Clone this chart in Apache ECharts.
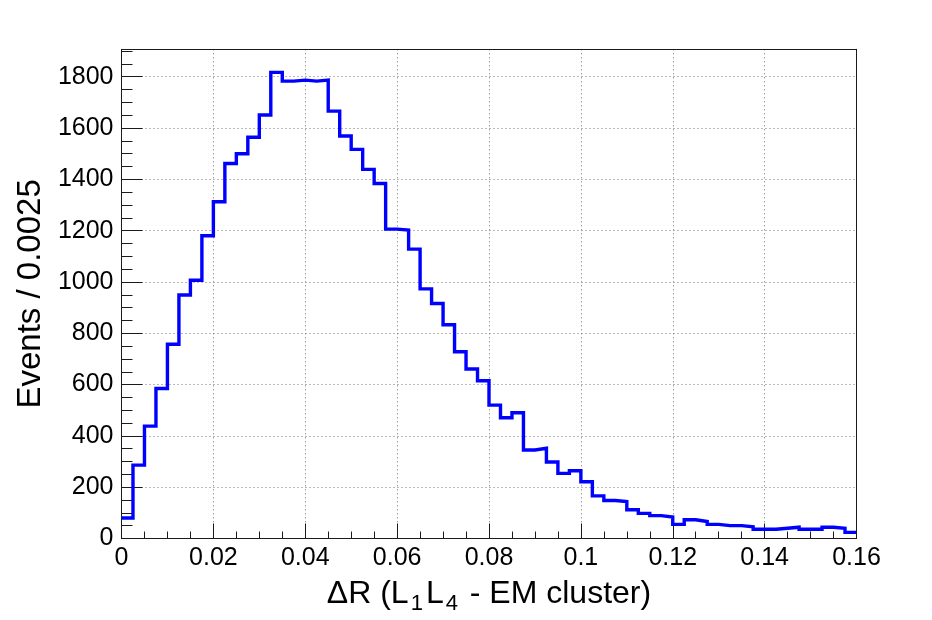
<!DOCTYPE html>
<html>
<head>
<meta charset="utf-8">
<script src="https://cdn.jsdelivr.net/npm/echarts@6/dist/echarts.min.js"></script>
<style>
html,body{margin:0;padding:0;background:#fff;}
#chart{width:932px;height:620px;}
</style>
</head>
<body>
<div id="chart"></div>
<script>
// Histogram: 64 bins of width 0.0025 from 0 to 0.16
const xMin = 0;
const xMax = 0.16;
const binWidth = 0.0025;
const counts = [
  80, 286, 438, 585, 757, 949, 1007, 1180, 1313, 1462,
  1500, 1564, 1651, 1817, 1783, 1787, 1783, 1787, 1666, 1569,
  1517, 1439, 1384, 1206, 1202, 1128, 973, 916, 833, 728,
  661, 615, 520, 471, 490, 345, 352, 298, 254, 264,
  221, 166, 148, 144, 112, 98, 89, 84, 55, 73,
  66, 55, 50, 50, 46, 36, 36, 40, 44, 36,
  36, 44, 40, 24
];
const yMax = 1907;
const yMajor = 200;
const yMinor = 50;
const xMajor = 0.02;
const yTitle = 'Events / 0.0025';

// step points at bin low edges, closing the last bin at its upper edge
const points = counts.map((v, i) => [xMin + i * binWidth, v]);
points.push([xMin + counts.length * binWidth, counts[counts.length - 1]]);

const FONT = '"Liberation Sans", Arial, Helvetica, sans-serif';
const AX = '#1a1a1a';
const GRID = '#707070';

const chart = echarts.init(document.getElementById('chart'), null, {renderer: 'canvas'});
chart.setOption({
  animation: false,
  backgroundColor: '#fff',
  grid: {left: 121.5, right: 75.5, top: 49.3, bottom: 81.5, containLabel: false},
  xAxis: [
    {
      type: 'value', min: xMin, max: xMax, interval: xMajor,
      position: 'bottom',
      name: '{n|ΔR (L}{s|1}{n|L}{s|4}{n| - EM cluster)}',
      nameLocation: 'middle', nameGap: 36,
      nameTextStyle: {
        rich: {
          n: {fontFamily: FONT, fontSize: 32, color: '#000', lineHeight: 40, verticalAlign: 'middle'},
          s: {fontFamily: FONT, fontSize: 22, color: '#000', lineHeight: 16, verticalAlign: 'bottom', padding: [0, 3, 0, 2]}
        }
      },
      axisLine: {show: true, onZero: false, lineStyle: {color: AX, width: 1}},
      axisTick: {show: true, inside: true, length: 15, lineStyle: {color: AX, width: 1}},
      minorTick: {show: true, splitNumber: 4, length: 7, lineStyle: {color: AX, width: 1}},
      axisLabel: {show: true, margin: 7, fontFamily: FONT, fontSize: 25, color: '#000',
        formatter: (v) => String(+v.toFixed(4))},
      splitLine: {show: true, lineStyle: {color: GRID, width: 1, type: [1, 3]}},
      minorSplitLine: {show: false}
    },
    {
      type: 'value', min: xMin, max: xMax, interval: xMajor,
      position: 'top', z: 5,
      axisLine: {show: true, onZero: false, lineStyle: {color: AX, width: 1}},
      axisTick: {show: false}, axisLabel: {show: false}, splitLine: {show: false}
    }
  ],
  yAxis: [
    {
      type: 'value', min: 0, max: yMax, interval: yMajor,
      position: 'left',
      name: yTitle, nameLocation: 'middle', nameGap: 61,
      nameTextStyle: {fontFamily: FONT, fontSize: 33, color: '#000'},
      axisLine: {show: true, onZero: false, lineStyle: {color: AX, width: 1}},
      axisTick: {show: true, inside: true, length: 21, lineStyle: {color: AX, width: 1}},
      axisLabel: {show: true, margin: 8, fontFamily: FONT, fontSize: 25, color: '#000', showMaxLabel: false,
        formatter: (v) => String(Math.round(v))},
      splitLine: {show: true, lineStyle: {color: GRID, width: 1, type: [1, 3]}}
    },
    {
      type: 'value', min: 0, max: yMax, interval: yMinor,
      position: 'left', offset: 0,
      axisLine: {show: false},
      axisTick: {show: true, inside: true, length: 11, lineStyle: {color: AX, width: 1}},
      axisLabel: {show: false}, splitLine: {show: false}
    },
    {
      type: 'value', min: 0, max: yMax, interval: yMajor,
      position: 'right', z: 5,
      axisLine: {show: true, onZero: false, lineStyle: {color: AX, width: 1}},
      axisTick: {show: false}, axisLabel: {show: false}, splitLine: {show: false}
    }
  ],
  series: [
    {
      type: 'line',
      xAxisIndex: 0, yAxisIndex: 0,
      step: 'end',
      data: points,
      showSymbol: false,
      symbol: 'none',
      lineStyle: {color: '#0000ff', width: 3.4, join: 'miter', cap: 'butt'},
      z: 3
    }
  ]
});
</script>
</body>
</html>
